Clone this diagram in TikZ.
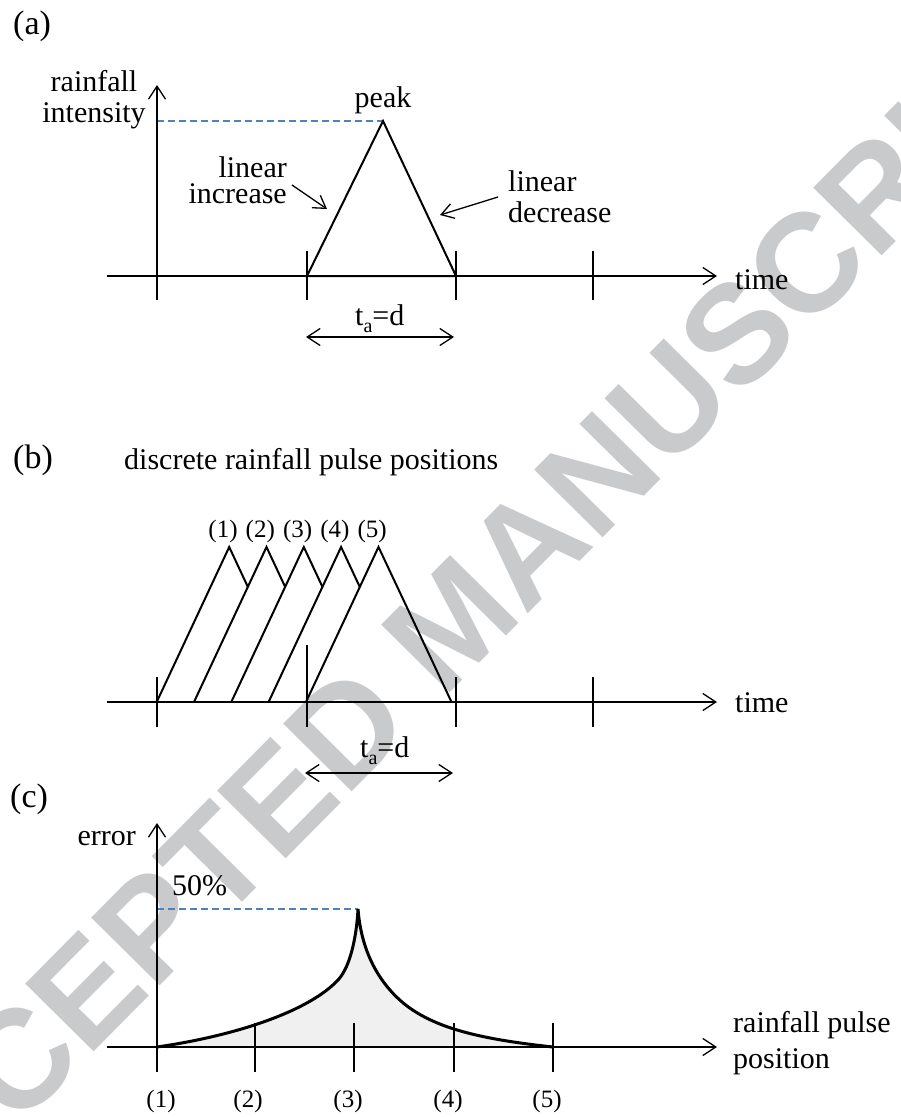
\documentclass[tikz,border=0pt]{standalone}
\usepackage{fontspec}
\setmainfont{Liberation Serif}
\newfontfamily\wmfont{Liberation Sans}
\usetikzlibrary{arrows.meta}
\definecolor{dashblue}{RGB}{79,129,189}
\definecolor{wmgray}{RGB}{201,202,204}
\begin{document}
\begin{tikzpicture}[x=1pt,y=-1pt,
  txt/.style={inner sep=0pt,font=\fontsize{30}{36}\selectfont},
  sml/.style={inner sep=0pt,font=\fontsize{25}{30}\selectfont},
  pan/.style={inner sep=0pt,font=\fontsize{34}{40}\selectfont},
  axarrow/.style={line width=1.3pt,-{Straight Barb[length=13pt,width=17pt]}},
  dblarrow/.style={line width=1.3pt,{Straight Barb[length=13pt,width=17pt]}-{Straight Barb[length=13pt,width=17pt]}},
  ptr/.style={line width=1.3pt,-{Straight Barb[length=12pt,width=15pt]}},
  tickline/.style={line width=1.3pt},
  tri/.style={line width=2pt,line join=miter},
  bluedash/.style={dashblue,line width=1.3pt,dash pattern=on 7pt off 4pt},
  errcurve/.style={line width=3pt,line join=miter},
]
\useasboundingbox (0,0) rectangle (901,1117);
\clip (0,0) rectangle (901,1117);
\fill[white] (0,0) rectangle (901,1117);

% watermark
\node[inner sep=0pt,rotate=45.3,text=wmgray,font=\wmfont\bfseries\fontsize{140}{140}\selectfont] (wm) at (453,621)
 {ACCEPTED MANUSCRIPT};

% ================= (a) =================
\node[pan,anchor=base west] (la) at (13,34) {(a)};
\coordinate (aXs) at (107,276); \coordinate (aXe) at (717,276);
\coordinate (aYs) at (157,300); \coordinate (aYe) at (157,85);
\coordinate (aL) at (307,276); \coordinate (aP) at (383,121); \coordinate (aR) at (456,276);
\coordinate (aD) at (157,121);
\draw[bluedash] (aD) -- (aP);
\draw[axarrow] (aXs) -- (aXe);
\draw[axarrow] (aYs) -- (aYe);
\foreach \x in {307,456,593} \draw[tickline] (\x,251) -- (\x,300);
\draw[tri] (aL) -- (aP) -- (aR) -- cycle;
\node[txt,anchor=base] (rf1) at (94,91) {rainfall};
\node[txt,anchor=base] (rf2) at (94,122) {intensity};
\node[txt,anchor=base] (pk) at (383,107) {peak};
\node[txt,anchor=base east] (li1) at (287,177) {linear};
\node[txt,anchor=base east] (li2) at (287,203) {increase};
\node[txt,anchor=base west] (ld1) at (508,191) {linear};
\node[txt,anchor=base west] (ld2) at (508,222) {decrease};
\node[txt,anchor=base west] (tma) at (735,289) {time};
\coordinate (inc1) at (292,185); \coordinate (inc2) at (327,209);
\draw[ptr] (inc1) -- (inc2);
\coordinate (dec1) at (498,197); \coordinate (dec2) at (440,215);
\draw[ptr] (dec1) -- (dec2);
\node[txt,anchor=base west] (taa) at (355,325) {t\raisebox{-7pt}{\fontsize{20}{20}\selectfont a}=d};
\coordinate (daa1) at (306,337); \coordinate (daa2) at (454,337);
\draw[dblarrow] (daa1) -- (daa2);

% ================= (b) =================
\node[pan,anchor=base west] (lb) at (13,468) {(b)};
\node[txt,anchor=base west] (dis) at (124,469) {discrete rainfall pulse positions};
\coordinate (bXs) at (107,702); \coordinate (bXe) at (717,702);
\draw[axarrow] (bXs) -- (bXe);
\foreach \k in {0,1,2,3} {
  \pgfmathsetmacro{\xa}{156.7+37.3*\k}
  \pgfmathsetmacro{\xb}{156.7+37.3*(\k+1)}
  \draw[tri] (\xa,702) -- (\xa+72.5,547) --
    (intersection of {\xa+72.5,547}--{\xa+145,702} and {\xb,702}--{\xb+72.5,547});
}
\coordinate (bL) at (306,702); \coordinate (bP) at (378.5,547); \coordinate (bR) at (451.5,702);
\draw[tri] (bL) -- (bP) -- (bR);
\coordinate (bB0) at (156.7,702);
\draw[tri] (bB0) -- (bR);
\draw[tickline] (157,677) -- (157,727);
\draw[tickline] (307,645) -- (307,727);
\draw[tickline] (456,677) -- (456,727);
\draw[tickline] (593,677) -- (593,727);
\foreach \k/\t in {0/(1),1/(2),2/(3),3/(4),4/(5)}
  \node[sml,anchor=base] (bp\k) at (223+37.3*\k,537) {\t};
\node[txt,anchor=base west] (tmb) at (735,712) {time};
\node[txt,anchor=base west] (tab) at (360,757) {t\raisebox{-7pt}{\fontsize{20}{20}\selectfont a}=d};
\coordinate (dab1) at (305,773); \coordinate (dab2) at (453,773);
\draw[dblarrow] (dab1) -- (dab2);

% ================= (c) =================
\node[pan,anchor=base west] (lc) at (10,807) {(c)};
\coordinate (c0) at (157,1047);
\coordinate (cpk) at (358,909);
\coordinate (cend) at (553,1047);
\fill[gray!12] (c0) .. controls (240,1035) and (310,1010) .. (338,980)
  .. controls (352,965) and (357,930) .. (cpk)
  .. controls (360,935) and (368,965) .. (390,990)
  .. controls (420,1025) and (470,1038) .. (cend) -- cycle;
\coordinate (cXs) at (107,1047); \coordinate (cXe) at (717,1047);
\coordinate (cYs) at (157,1072); \coordinate (cYe) at (157,823);
\coordinate (cD) at (157,909);
\draw[bluedash] (cD) -- (cpk);
\draw[axarrow] (cXs) -- (cXe);
\draw[axarrow] (cYs) -- (cYe);
\foreach \x in {255,354,454,553} \draw[tickline] (\x,1023) -- (\x,1072);
\draw[errcurve] (c0) .. controls (240,1035) and (310,1010) .. (338,980)
  .. controls (352,965) and (357,930) .. (cpk)
  .. controls (360,935) and (368,965) .. (390,990)
  .. controls (420,1025) and (470,1038) .. (cend);
\node[txt,anchor=base east] (err) at (136,845) {error};
\node[txt,anchor=base west] (fifty) at (172,895) {50\%};
\foreach \k/\x/\t in {1/161/(1),2/248/(2),3/348/(3),4/448/(4),5/547/(5)}
  \node[sml,anchor=base] (cp\k) at (\x,1107) {\t};
\node[txt,anchor=base west] (rp1) at (733,1032) {rainfall pulse};
\node[txt,anchor=base west] (rp2) at (733,1068) {position};
\end{tikzpicture}
\end{document}
